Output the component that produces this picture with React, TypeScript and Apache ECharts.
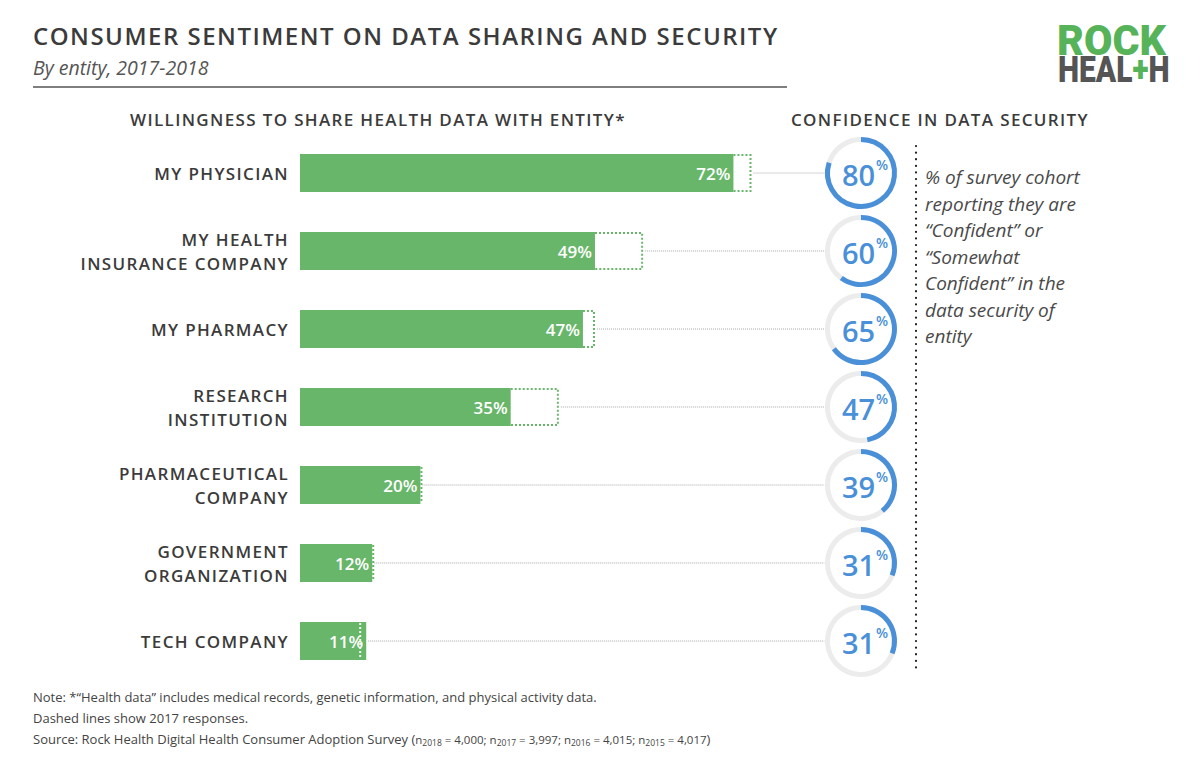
import React, { useEffect, useRef } from "react";
import * as echarts from "echarts";

const CATEGORIES = [
  "MY PHYSICIAN",
  "MY HEALTH\nINSURANCE COMPANY",
  "MY PHARMACY",
  "RESEARCH\nINSTITUTION",
  "PHARMACEUTICAL\nCOMPANY",
  "GOVERNMENT\nORGANIZATION",
  "TECH COMPANY",
];
const SHARE_2018 = [72, 49, 47, 35, 20, 12, 11];
const SHARE_2017 = [75, 57, 49, 43, 20, 12, 10];
const CONFIDENCE = [80, 60, 65, 47, 39, 31, 31];

const GREEN = "#68b66a";
const BLUE = "#4a90d9";
const DARK = "#3b3b3b";
const FONT = "'Open Sans', Lato, sans-serif";
const BAR_H = 38;
const RING_CX = 861;
const RING_R = 33.5;
const TITLE = "CONSUMER SENTIMENT ON DATA SHARING AND SECURITY";
const LOGO_TOKENS = ["ROCK", "HEAL", "H", "+"];

function renderItem(params: any, api: any) {
  const v17 = api.value(0);
  const idx = api.value(1);
  const v18 = api.value(2);
  const conf = api.value(3);
  const p17 = api.coord([v17, idx]);
  const p18 = api.coord([v18, idx]);
  const cy = p17[1];
  const x17 = p17[0];
  const x18 = p18[0];
  const top = cy - BAR_H / 2;
  const bottom = cy + BAR_H / 2;
  const children: any[] = [];
  if (v17 > v18) {
    children.push({
      type: "polyline",
      shape: {
        points: [
          [x18, top + 1],
          [x17 - 1, top + 1],
          [x17 - 1, bottom - 1],
          [x18, bottom - 1],
        ],
      },
      style: { stroke: GREEN, lineWidth: 2, lineDash: [2, 2], fill: null },
    });
  } else {
    const xx = v17 === v18 ? x17 + 1 : x17;
    children.push({
      type: "line",
      shape: { x1: xx, y1: top + 1, x2: xx, y2: bottom - 1 },
      style: {
        stroke: v17 === v18 ? GREEN : "rgba(255,255,255,0.9)",
        lineWidth: 2,
        lineDash: [2, 2],
      },
    });
  }
  const startX = Math.max(x17, x18) + 2;
  children.push({
    type: "line",
    shape: { x1: startX, y1: cy, x2: RING_CX - RING_R - 3, y2: cy },
    style: { stroke: "#a8a8a8", lineWidth: 1, lineDash: [1, 1] },
  });
  children.push({
    type: "arc",
    shape: { cx: RING_CX, cy, r: RING_R, startAngle: 0, endAngle: Math.PI * 2 },
    style: { stroke: "#ececec", lineWidth: 5, fill: null },
  });
  children.push({
    type: "arc",
    shape: {
      cx: RING_CX,
      cy,
      r: RING_R,
      startAngle: -Math.PI / 2,
      endAngle: -Math.PI / 2 + (Math.PI * 2 * conf) / 100,
      clockwise: true,
    },
    style: { stroke: BLUE, lineWidth: 5, fill: null },
  });
  children.push({
    type: "text",
    x: RING_CX + 4,
    y: cy + 1,
    style: {
      text: `{v|${conf}}{p|%}`,
      align: "center",
      verticalAlign: "middle",
      rich: {
        v: { fontSize: 29, fontWeight: 600, fill: BLUE, fontFamily: FONT, lineHeight: 34 },
        p: { fontSize: 14, fontWeight: 600, fill: BLUE, fontFamily: FONT, verticalAlign: "top", lineHeight: 18, padding: [0, 0, 0, 1] },
      },
    },
  });
  return { type: "group", children };
}

export default function App() {
  const ref = useRef<HTMLDivElement>(null);
  useEffect(() => {
    if (!ref.current) return;
    document.body.style.margin = "0";
    const chart = echarts.init(ref.current, undefined, { renderer: "svg" });
    const option: any = {
      animation: false,
      backgroundColor: "#ffffff",
      grid: { left: 300, right: 298, top: 134, bottom: 85 },
      xAxis: { type: "value", min: 0, max: 100, show: false },
      yAxis: {
        type: "category",
        data: CATEGORIES,
        inverse: true,
        axisLine: { show: false },
        axisTick: { show: false },
        splitLine: { show: false },
        axisLabel: {
          color: DARK,
          fontFamily: FONT,
          fontWeight: 600,
          fontSize: 17,
          lineHeight: 24,
          margin: 11,
          align: "right",
        },
      },
      series: [
        {
          type: "bar",
          name: "2018",
          data: SHARE_2018,
          barWidth: BAR_H,
          itemStyle: { color: GREEN },
          label: {
            show: true,
            position: "insideRight",
            formatter: "{c}%",
            color: "#ffffff",
            fontFamily: FONT,
            fontWeight: 600,
            fontSize: 17,
            distance: 3,
          },
          z: 2,
        },
        {
          type: "custom",
          name: "2017",
          data: CATEGORIES.map((c, i) => [SHARE_2017[i], i, SHARE_2018[i], CONFIDENCE[i]]),
          encode: { x: 0, y: 1 },
          renderItem,
          clip: false,
          z: 3,
        },
      ],
      graphic: [
        {
          type: "text",
          x: 33,
          y: 35,
          style: {
            text: TITLE,
            fill: DARK,
            fontFamily: FONT,
            fontWeight: 600,
            fontSize: 24,
            verticalAlign: "middle",
          },
        },
        {
          type: "text",
          x: 33,
          y: 67,
          style: {
            text: "By entity, 2017-2018",
            fill: "#555555",
            fontFamily: FONT,
            fontStyle: "italic",
            fontSize: 19.5,
            verticalAlign: "middle",
          },
        },
        {
          type: "line",
          shape: { x1: 33, y1: 87, x2: 787, y2: 87 },
          style: { stroke: "#555555", lineWidth: 1.5 },
        },
        {
          type: "text",
          x: 130,
          y: 119,
          style: {
            text: "WILLINGNESS TO SHARE HEALTH DATA WITH ENTITY*",
            fill: DARK,
            fontFamily: FONT,
            fontWeight: 600,
            fontSize: 17,
            verticalAlign: "middle",
          },
        },
        {
          type: "text",
          x: 791,
          y: 119,
          style: {
            text: "CONFIDENCE IN DATA SECURITY",
            fill: DARK,
            fontFamily: FONT,
            fontWeight: 600,
            fontSize: 17,
            verticalAlign: "middle",
          },
        },
        {
          type: "line",
          shape: { x1: 916, y1: 146, x2: 916, y2: 668 },
          style: { stroke: "#222222", lineWidth: 2.2, lineDash: [0.1, 6.5], lineCap: "round" },
        },
        {
          type: "text",
          x: 925,
          y: 164,
          style: {
            text:
              "% of survey cohort\nreporting they are\n\u201cConfident\u201d or\n\u201cSomewhat\nConfident\u201d in the\ndata security of\nentity",
            fill: "#4a4a4a",
            fontFamily: FONT,
            fontStyle: "italic",
            fontSize: 19,
            lineHeight: 26.5,
            verticalAlign: "top",
          },
        },
        {
          type: "text",
          x: 33,
          y: 697,
          style: {
            text: "Note: *\u201cHealth data\u201d includes medical records, genetic information, and physical activity data.",
            fill: "#444444",
            fontFamily: FONT,
            fontSize: 13,
            verticalAlign: "middle",
          },
        },
        {
          type: "text",
          x: 33,
          y: 718,
          style: {
            text: "Dashed lines show 2017 responses.",
            fill: "#444444",
            fontFamily: FONT,
            fontSize: 13,
            verticalAlign: "middle",
          },
        },
        {
          type: "text",
          x: 33,
          y: 739,
          style: {
            text:
              "{a|Source: Rock Health Digital Health Consumer Adoption Survey (}{b|n}{s|2018}{b| = 4,000; n}{s|2017}{b| = 3,997; n}{s|2016}{b| = 4,015; n}{s|2015}{b| = 4,017}{a|)}",
            verticalAlign: "middle",
            rich: {
              a: { fill: "#444444", fontFamily: FONT, fontSize: 13, lineHeight: 18 },
              b: { fill: "#444444", fontFamily: FONT, fontSize: 11.5, lineHeight: 18 },
              s: { fill: "#444444", fontFamily: FONT, fontSize: 8.5, lineHeight: 18, verticalAlign: "bottom", padding: [0, 0, 1, 0] },
            },
          },
        },
        {
          type: "text",
          x: 1057,
          y: 19,
          scaleX: 0.96,
          style: {
            text: "ROCK",
            fill: "#56b35a",
            fontFamily: "Roboto, sans-serif",
            fontWeight: 900,
            fontSize: 43,
            verticalAlign: "top",
          },
        },
        {
          type: "text",
          x: 1058,
          y: 51,
          scaleX: 0.81,
          style: {
            text: "{h|HEAL}{p|+}{h|H}",
            verticalAlign: "top",
            rich: {
              h: { fill: "#555555", fontFamily: "Roboto, sans-serif", fontWeight: 900, fontSize: 37 },
              p: { fill: "#56b35a", fontFamily: "Roboto, sans-serif", fontWeight: 900, fontSize: 37 },
            },
          },
        },
      ],
    };
    chart.setOption(option);
    const svg = ref.current.querySelector("svg");
    if (svg) {
      svg.querySelectorAll("text").forEach((t: any) => {
        const s = (t.textContent || "").trim();
        if (LOGO_TOKENS.indexOf(s) >= 0) return;
        if (/^[A-Z* ]{4,}$/.test(s)) {
          t.style.letterSpacing = s === TITLE ? "1.5px" : "1.35px";
        }
      });
    }
    return () => chart.dispose();
  }, []);
  return <div ref={ref} style={{ width: 1200, height: 765 }} />;
}
